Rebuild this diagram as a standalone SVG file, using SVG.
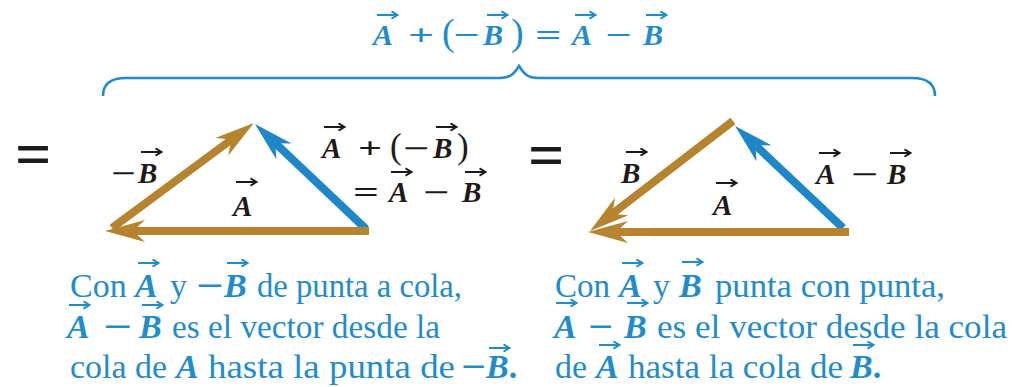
<svg xmlns="http://www.w3.org/2000/svg" width="1012" height="387" viewBox="0 0 1012 387">
<style>
.bg{fill:#ffffff}
text{font-family:"Liberation Serif","Times New Roman",Tinos,"Noto Serif","DejaVu Serif",serif}
.blue{fill:#1f8ccb}
.blk{fill:#1e1a17}
.v{font-weight:bold;font-style:italic}
.op{font-weight:bold}
.body{font-size:34px}
.lab{font-size:29px}
.eq{font-size:30px}
.par{font-weight:normal}
.bigeq{font-size:64px;font-weight:bold}
.vb{stroke:#1f8ccb;stroke-width:1.8;fill:none}
.vk{stroke:#1e1a17;stroke-width:1.8;fill:none}
.brown{stroke:#b6832f;stroke-width:8;fill:none;stroke-linecap:butt}
.cyan{stroke:#1d87c8;stroke-width:8;fill:none;stroke-linecap:butt}
</style>
<defs>
<path id="v" d="M0,0 H20 M14.5,-3.6 L20.6,0 L14.5,3.6"/>
<marker id="hb" markerUnits="userSpaceOnUse" viewBox="0 -12 42 24" refX="12" refY="0" markerWidth="42" markerHeight="24" orient="auto"><path d="M0,-11 L40,0 L0,11 L12,0 Z" fill="#b6832f"/></marker>
<marker id="hc" markerUnits="userSpaceOnUse" viewBox="0 -12 42 24" refX="12" refY="0" markerWidth="42" markerHeight="24" orient="auto"><path d="M0,-11 L40,0 L0,11 L12,0 Z" fill="#1d87c8"/></marker>
</defs>
<rect class="bg" x="0" y="0" width="1012" height="387"/>

<g id="top-equation">
<text class="eq blue" y="45"><tspan class="v" x="373">A</tspan><tspan class="op" x="408" textLength="26" lengthAdjust="spacingAndGlyphs">+</tspan><tspan class="par" x="442" style="font-size:38px">(</tspan><tspan class="op" x="453" textLength="26.5" lengthAdjust="spacingAndGlyphs">−</tspan><tspan class="v" x="483">B</tspan><tspan class="par" x="511" style="font-size:38px">)</tspan><tspan class="op" x="535" textLength="26.5" lengthAdjust="spacingAndGlyphs">=</tspan><tspan class="v" x="572">A</tspan><tspan class="op" x="605" textLength="26.5" lengthAdjust="spacingAndGlyphs">−</tspan><tspan class="v" x="643">B</tspan></text>
<use href="#v" class="vb" x="377" y="15"/>
<use href="#v" class="vb" x="487" y="15"/>
<use href="#v" class="vb" x="575" y="15"/>
<use href="#v" class="vb" x="646" y="15"/>
</g>

<g id="brace">
<path d="M103,96 C103,84 110,78 126,78 L500,78 C510,78 514,74 519,66 C524,74 528,78 538,78 L912,78 C928,78 935,84 935,96" fill="none" stroke="#1f8ccb" stroke-width="2.6"/>
</g>

<g id="equals-left"><text class="bigeq blk" x="15" y="176">=</text></g>
<g id="equals-right"><text class="bigeq blk" x="528" y="177">=</text></g>

<g id="connectors">
<line class="cyan" x1="366" y1="229" x2="275.3" y2="143.2" marker-end="url(#hc)"/>
<line class="brown" x1="112" y1="228" x2="231.4" y2="139.6" marker-end="url(#hb)"/>
<line class="brown" x1="369" y1="231" x2="133" y2="231" marker-end="url(#hb)"/>
<line class="cyan" x1="843" y1="228" x2="755.4" y2="145.2" marker-end="url(#hc)"/>
<line class="brown" x1="733" y1="121" x2="612.2" y2="213.9" marker-end="url(#hb)"/>
<line class="brown" x1="849" y1="232" x2="616" y2="232" marker-end="url(#hb)"/>
</g>

<g id="left-labels">
<text class="lab blk" y="183"><tspan class="op" x="111" textLength="25" lengthAdjust="spacingAndGlyphs">−</tspan><tspan class="v" x="138">B</tspan></text>
<use href="#v" class="vk" x="141" y="152"/>
<text class="lab blk v" x="233" y="216">A</text>
<use href="#v" class="vk" x="236" y="182"/>
<text class="lab blk" y="158"><tspan class="v" x="322">A</tspan><tspan class="op" x="358" textLength="24" lengthAdjust="spacingAndGlyphs">+</tspan><tspan class="par" x="390" style="font-size:35px">(</tspan><tspan class="op" x="403" textLength="26.5" lengthAdjust="spacingAndGlyphs">−</tspan><tspan class="v" x="433">B</tspan><tspan class="par" x="457" style="font-size:35px">)</tspan></text>
<use href="#v" class="vk" x="324" y="127"/>
<use href="#v" class="vk" x="436" y="127"/>
<text class="lab blk" y="202"><tspan class="op" x="353" textLength="26" lengthAdjust="spacingAndGlyphs">=</tspan><tspan class="v" x="389">A</tspan><tspan class="op" x="423" textLength="26.5" lengthAdjust="spacingAndGlyphs">−</tspan><tspan class="v" x="462">B</tspan></text>
<use href="#v" class="vk" x="391" y="172"/>
<use href="#v" class="vk" x="465" y="172"/>
</g>

<g id="right-labels">
<text class="lab blk v" x="621" y="183">B</text>
<use href="#v" class="vk" x="626" y="152"/>
<text class="lab blk v" x="713" y="215">A</text>
<use href="#v" class="vk" x="716" y="183"/>
<text class="lab blk" y="184"><tspan class="v" x="816">A</tspan><tspan class="op" x="851" textLength="27.5" lengthAdjust="spacingAndGlyphs">−</tspan><tspan class="v" x="887">B</tspan></text>
<use href="#v" class="vk" x="819" y="153"/>
<use href="#v" class="vk" x="890" y="153"/>
</g>

<g id="left-caption">
<text class="body blue" y="297"><tspan x="70">Con</tspan><tspan class="v" x="135">A</tspan><tspan x="170">y</tspan><tspan class="op" x="196" textLength="27.5" lengthAdjust="spacingAndGlyphs">−</tspan><tspan class="v" x="224">B</tspan><tspan x="257" textLength="205" lengthAdjust="spacingAndGlyphs">de punta a cola,</tspan></text>
<use href="#v" class="vb" x="138" y="263"/>
<use href="#v" class="vb" x="227" y="263"/>
<text class="body blue" y="338"><tspan class="v" x="67">A</tspan><tspan class="op" x="103" textLength="29" lengthAdjust="spacingAndGlyphs">−</tspan><tspan class="v" x="139">B</tspan><tspan x="172" textLength="268" lengthAdjust="spacingAndGlyphs">es el vector desde la</tspan></text>
<use href="#v" class="vb" x="69" y="305"/>
<use href="#v" class="vb" x="142" y="305"/>
<text class="body blue" y="378"><tspan x="70" textLength="97" lengthAdjust="spacingAndGlyphs">cola de</tspan><tspan class="v" x="176">A</tspan><tspan x="208" textLength="247" lengthAdjust="spacingAndGlyphs">hasta la punta de</tspan><tspan class="op" x="461" textLength="25" lengthAdjust="spacingAndGlyphs">−</tspan><tspan class="v" x="486">B</tspan><tspan class="op">.</tspan></text>
<use href="#v" class="vb" x="489" y="348"/>
</g>

<g id="right-caption">
<text class="body blue" y="297"><tspan x="555" textLength="55" lengthAdjust="spacingAndGlyphs">Con</tspan><tspan class="v" x="619">A</tspan><tspan x="653">y</tspan><tspan class="v" x="679">B</tspan><tspan x="715" textLength="230" lengthAdjust="spacingAndGlyphs">punta con punta,</tspan></text>
<use href="#v" class="vb" x="622" y="263"/>
<use href="#v" class="vb" x="682" y="262"/>
<text class="body blue" y="338"><tspan class="v" x="554">A</tspan><tspan class="op" x="588" textLength="25" lengthAdjust="spacingAndGlyphs">−</tspan><tspan class="v" x="624">B</tspan><tspan x="657" textLength="350" lengthAdjust="spacingAndGlyphs">es el vector desde la cola</tspan></text>
<use href="#v" class="vb" x="556" y="303"/>
<use href="#v" class="vb" x="627" y="303"/>
<text class="body blue" y="378"><tspan x="555">de</tspan><tspan class="v" x="596">A</tspan><tspan x="628" textLength="215" lengthAdjust="spacingAndGlyphs">hasta la cola de</tspan><tspan class="v" x="850">B</tspan><tspan class="op">.</tspan></text>
<use href="#v" class="vb" x="599" y="345"/>
<use href="#v" class="vb" x="853" y="345"/>
</g>
</svg>
